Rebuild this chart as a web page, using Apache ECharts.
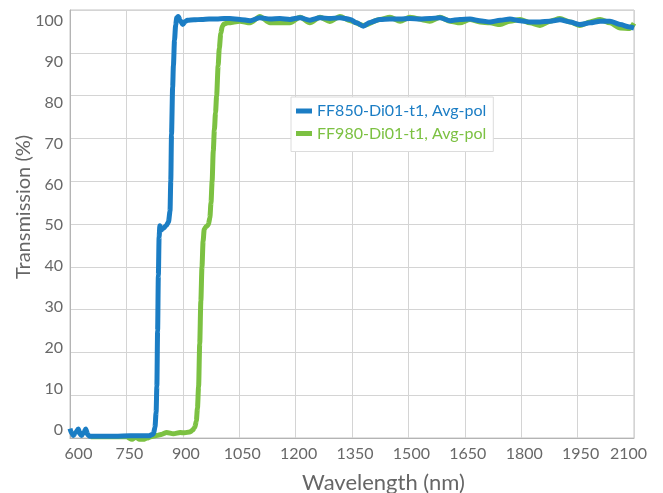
<!DOCTYPE html>
<html>
<head>
<meta charset="utf-8">
<script src="https://cdn.jsdelivr.net/npm/echarts@6/dist/echarts.min.js"></script>
<style>
html,body{margin:0;padding:0;background:#fff;}
#chart{width:663px;height:493px;}
</style>
</head>
<body>
<div id="chart"></div>
<script>
// Tick labels
var xTicks = [600, 750, 900, 1050, 1200, 1350, 1500, 1650, 1800, 1950, 2100];
var yTicks = [0, 10, 20, 30, 40, 50, 60, 70, 80, 90, 100];
var seriesNames = ['FF850-Di01-t1, Avg-pol', 'FF980-Di01-t1, Avg-pol'];

// FF850-Di01-t1 (blue)
var blueWl = [600,605,609,615,622,627,631,636,642,647,652,680,720,760,790,810,818,822,826,829,831,833,835,837,839,842,848,856,862,866,868,870,873,875,878,881,884,888,893,900,906,912,930,950,970,990,1010,1025,1052,1079,1105,1132,1158,1185,1212,1238,1265,1291,1318,1345,1362,1380,1398,1424,1451,1478,1504,1531,1557,1584,1611,1637,1664,1690,1717,1744,1770,1797,1823,1850,1877,1903,1930,1956,1983,2010,2036,2063,2089,2100];
var blueT = [2.2,1.0,0.6,1.2,2.1,0.9,0.6,1.2,2.1,0.8,0.4,0.4,0.4,0.5,0.5,0.5,0.8,1.0,2.5,6,12,25,38,47,49.6,48.6,49,49.6,50.5,53,60,71,82,87,93,96.5,98.2,98.5,97.6,96.6,97.3,97.6,97.7,97.8,97.9,97.9,98.0,98.0,97.8,97.5,98.2,97.9,98.0,97.8,98.2,97.6,98.2,98.0,98.2,97.8,97.0,96.2,97.1,97.8,97.9,97.9,98.0,97.9,98.0,98.2,97.5,97.8,97.9,97.5,97.2,97.6,97.9,97.5,97.2,97.2,97.4,97.7,97.2,96.6,97.0,97.4,97.4,96.6,96.0,95.8];

// FF980-Di01-t1 (green)
var greenWl = [655,700,750,765,775,785,795,805,815,830,845,857,875,893,905,918,926,932,936,939,942,945,948,951,954,957,962,968,972,975,978,981,984,987,990,994,997,1001,1005,1010,1020,1052,1079,1105,1132,1158,1185,1212,1238,1265,1291,1318,1345,1380,1424,1451,1478,1504,1557,1584,1611,1637,1664,1690,1717,1744,1770,1797,1823,1850,1877,1903,1930,1956,1983,2010,2036,2063,2089,2100];
var greenT = [0.3,0.3,0.3,-0.3,0.2,-0.3,-0.3,0.0,0.3,0.6,0.9,1.3,1.0,1.3,1.2,1.4,1.8,2.5,4,7,12,22,32,40,46,48.8,49.4,49.8,51.5,55,60,67,72,76,80,87,91,94.5,96.2,96.8,97.0,97.4,97.0,98.5,97.0,97.0,97.0,98.3,97.0,98.3,97.3,98.5,97.5,96.4,97.8,98.3,97.4,98.3,97.4,98.3,97.4,97.0,97.8,97.2,97.0,96.6,97.4,97.8,97.0,96.4,97.4,98.0,97.2,96.4,97.2,97.8,97.0,95.8,95.7,96.9];

function pairs(xs, ys){ return xs.map(function(x,i){ return [x, ys[i]]; }); }

var blueColor = '#1b7dc4';
var greenColor = '#7cc142';
var labelColor = '#686868';
var font = 'Lato, "Open Sans", sans-serif';

var chart = echarts.init(document.getElementById('chart'), null, {renderer:'canvas'});
chart.setOption({
  animation: false,
  backgroundColor: '#ffffff',
  textStyle: {fontFamily: font},
  grid: {left: 70, right: 29, top: 10, bottom: 55, show: true, borderColor: '#c4c4c4', borderWidth: 1,
         containLabel: false, outerBoundsMode: 'none'},
  legend: {
    orient: 'vertical',
    left: 291, top: 97,
    padding: [6, 7, 10, 5],
    itemGap: 6.5,
    itemWidth: 16, itemHeight: 5,
    icon: 'rect',
    backgroundColor: '#ffffff',
    borderColor: '#dcdcdc', borderWidth: 1,
    textStyle: {fontSize: 16, fontFamily: font},
    data: [
      {name: seriesNames[0], textStyle: {color: blueColor}},
      {name: seriesNames[1], textStyle: {color: greenColor}}
    ]
  },
  xAxis: {
    type: 'value',
    min: xTicks[0], max: xTicks[xTicks.length-1], interval: 150,
    name: 'Wavelength (nm)',
    nameLocation: 'middle', nameGap: 34,
    nameTextStyle: {fontSize: 22, color: '#666666', padding: [0, 0, 0, 63]},
    axisLine: {show: true, lineStyle: {color: '#b4b4b4', width: 1}},
    axisTick: {show: false},
    axisLabel: {
      fontSize: 16, color: labelColor, margin: 8,
      formatter: function(v){
        if (v === xTicks[0]) return '{first|' + v + '}';
        if (v === xTicks[xTicks.length-1]) return '{last|' + v + '}';
        return '{n|' + v + '}';
      },
      rich: {
        n: {fontSize: 16, color: labelColor, fontFamily: font, padding: [0, 0, 0, 6]},
        first: {fontSize: 16, color: labelColor, fontFamily: font, padding: [0, 0, 0, 17]},
        last: {fontSize: 16, color: labelColor, fontFamily: font, padding: [0, 11, 0, 0]}
      }
    },
    splitLine: {show: true, lineStyle: {color: '#d4d4d4', width: 1}}
  },
  yAxis: [
    {
      type: 'value',
      min: yTicks[0], max: yTicks[yTicks.length-1], interval: 10,
      name: 'Transmission (%)',
      nameLocation: 'middle', nameGap: 36,
      nameTextStyle: {fontSize: 20, color: '#666666', padding: [0, 0, 0, 34]},
      axisLine: {show: true, lineStyle: {color: '#b4b4b4', width: 1}},
      axisTick: {show: false},
      axisLabel: {show: false},
      splitLine: {show: true, lineStyle: {color: '#d4d4d4', width: 1}}
    },
    {
      type: 'value',
      position: 'left',
      min: -2.08, max: 102.7,
      axisLine: {show: false},
      axisTick: {show: false},
      splitLine: {show: false},
      axisLabel: {fontSize: 16, color: labelColor, margin: 7, customValues: yTicks}
    }
  ],
  series: [
    {
      name: seriesNames[1], type: 'line', data: pairs(greenWl, greenT), yAxisIndex: 0,
      showSymbol: false, smooth: 0.25, smoothMonotone: 'x', clip: false,
      lineStyle: {color: greenColor, width: 5}, itemStyle: {color: greenColor}
    },
    {
      name: seriesNames[0], type: 'line', data: pairs(blueWl, blueT), yAxisIndex: 0,
      showSymbol: false, smooth: 0.25, smoothMonotone: 'x', clip: false,
      lineStyle: {color: blueColor, width: 5}, itemStyle: {color: blueColor}
    }
  ]
});
</script>
</body>
</html>
